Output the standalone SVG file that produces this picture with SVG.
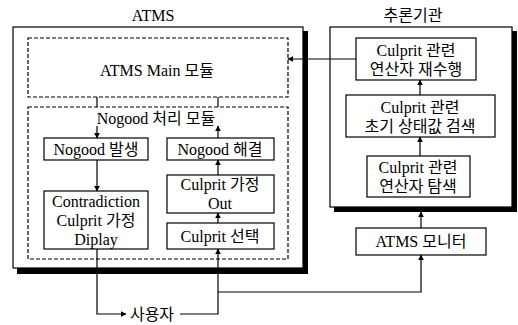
<svg xmlns="http://www.w3.org/2000/svg" width="518" height="325" viewBox="0 0 518 325">
<style>
text{font-family:'Liberation Serif','Times New Roman','Noto Sans CJK KR',serif;font-size:16px;fill:#000;text-anchor:middle;dominant-baseline:central}
.box{fill:#fff;stroke:#000;stroke-width:1.2}
.dash{fill:none;stroke:#000;stroke-width:1.2;stroke-dasharray:4 2}
.sh{fill:#000}
.c{fill:none;stroke:#000;stroke-width:1.2}
</style>
<defs>
<marker id="a" viewBox="0 0 10 10" refX="9" refY="5" markerWidth="6" markerHeight="6" orient="auto" markerUnits="userSpaceOnUse"><path d="M0,0 L10,5 L0,10 z" fill="#000"/></marker>
</defs>
<g id="atms">
<rect class="sh" x="17" y="31" width="291" height="243"/>
<rect class="box" x="13" y="27" width="290" height="241"/>
<text x="153" y="15" font-size="17">ATMS</text>
</g>
<g id="engine">
<rect class="sh" x="334" y="31" width="183" height="181"/>
<rect class="box" x="330" y="27" width="182" height="180"/>
<text x="413" y="15" font-size="17">추론기관</text>
</g>
<g id="main">
<rect class="dash" x="28" y="38" width="260" height="59"/>
<text x="157" y="70" font-size="17">ATMS Main 모듈</text>
</g>
<g id="nogood-module">
<rect class="dash" x="28" y="107" width="260" height="152"/>
<text x="156" y="118" font-size="17">Nogood 처리 모듈</text>
</g>
<g id="nogood-occur">
<rect class="box" x="44" y="138" width="104" height="22"/>
<text x="96" y="149">Nogood 발생</text>
</g>
<g id="nogood-resolve">
<rect class="box" x="167" y="138" width="107" height="22"/>
<text x="220" y="149">Nogood 해결</text>
</g>
<g id="contradiction">
<rect class="box" x="44" y="191" width="104" height="58"/>
<text x="96" y="201">Contradiction</text>
<text x="96" y="220">Culprit 가정</text>
<text x="96" y="239">Diplay</text>
</g>
<g id="culprit-out">
<rect class="box" x="167" y="175" width="107" height="38"/>
<text x="220" y="184.5">Culprit 가정</text>
<text x="220" y="203.5">Out</text>
</g>
<g id="culprit-select">
<rect class="box" x="167" y="223" width="107" height="26"/>
<text x="220" y="236">Culprit 선택</text>
</g>
<g id="redo">
<rect class="box" x="356" y="38" width="120" height="42"/>
<text x="416" y="50">Culprit 관련</text>
<text x="416" y="69">연산자 재수행</text>
</g>
<g id="search-init">
<rect class="box" x="346" y="95" width="149" height="42"/>
<text x="420" y="107">Culprit 관련</text>
<text x="420" y="126">초기 상태값 검색</text>
</g>
<g id="search-op">
<rect class="box" x="367" y="156" width="103" height="41"/>
<text x="418" y="167">Culprit 관련</text>
<text x="418" y="186">연산자 탐색</text>
</g>
<g id="monitor">
<rect class="box" x="356" y="228" width="130" height="27"/>
<text x="421" y="241">ATMS 모니터</text>
</g>
<g id="user">
<text x="152" y="314">사용자</text>
</g>
<g id="connectors">
<path class="c" d="M97,97 V107"/>
<path class="c" d="M97,126 V138" marker-end="url(#a)"/>
<path class="c" d="M218,97 V107"/>
<path class="c" d="M218,138 V126" marker-end="url(#a)"/>
<path class="c" d="M97,160 V191" marker-end="url(#a)"/>
<path class="c" d="M218,175 V160" marker-end="url(#a)"/>
<path class="c" d="M218,223 V213" marker-end="url(#a)"/>
<path class="c" d="M97,249 V314 H126" marker-end="url(#a)"/>
<path class="c" d="M180,314 H218 V249" marker-end="url(#a)"/>
<path class="c" d="M218,292 H421 V255" marker-end="url(#a)"/>
<path class="c" d="M421,228 V212" marker-end="url(#a)"/>
<path class="c" d="M420,156 V137" marker-end="url(#a)"/>
<path class="c" d="M420,95 V80" marker-end="url(#a)"/>
<path class="c" d="M356,59 H288" marker-end="url(#a)"/>
</g>
</svg>
